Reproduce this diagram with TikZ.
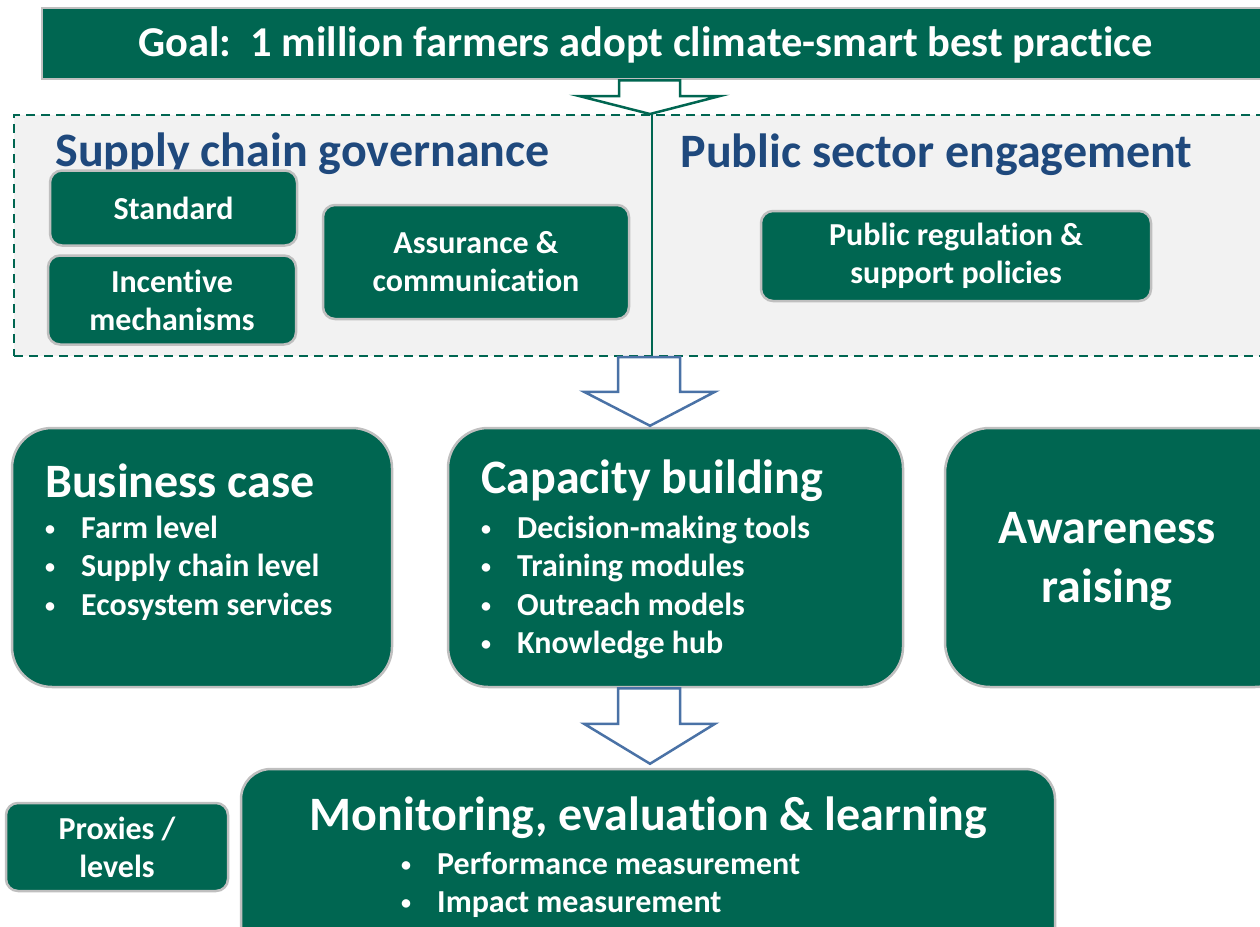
\documentclass[tikz,border=0pt]{standalone}
\usepackage{fontspec}
\setmainfont{Carlito}[Ligatures=NoCommon]
\usetikzlibrary{calc,positioning}

\definecolor{leafgreen}{HTML}{006651}
\definecolor{titleblue}{HTML}{1F497D}
\definecolor{arrowblue}{HTML}{4A72A6}
\definecolor{rimgray}{HTML}{BFBFBF}
\definecolor{panelgray}{HTML}{F2F2F2}

\newcommand{\itm}{\makebox[36pt][l]{\raisebox{3pt}{\fontsize{20}{20}\selectfont\textbullet}}}

\begin{document}
\begin{tikzpicture}[x=1pt,y=-1pt]
       \tikzset{box/.style ={rectangle, fill=leafgreen, draw=rimgray, line width=2.5pt,
                text=white, align=center, inner sep=0pt}}

       \tikzset{smallbox/.style={box, rounded corners=12pt,
                font=\fontsize{32}{38}\selectfont\bfseries}}

       \tikzset{bigbox/.style={box, rounded corners=40pt}}

       \tikzset{head/.style={font=\fontsize{48}{59}\selectfont\bfseries, text=white, inner sep=0pt}}
       \tikzset{items/.style={font=\fontsize{32}{38.6}\selectfont\bfseries, text=white,
                align=left, inner sep=0pt}}
       \tikzset{section/.style={font=\fontsize{48}{58}\selectfont\bfseries, text=titleblue, inner sep=0pt}}
       \tikzset{hollow/.style={fill=white, line width=2.5pt, line join=miter}}

        \useasboundingbox (0,0) rectangle (1260,926);
        \clip (0,0) rectangle (1260,926);
        \coordinate (axis) at (650,0);

        % goal bar
        \node[box, minimum width=1250, minimum height=71] (goal) at (667,43.5) {};
        \node[font=\fontsize{42.5}{50}\selectfont\bfseries, text=white] (goaltext) at (645.5,45) {Goal:~~1 million farmers adopt climate-smart best practice};

        % governance panel
        \node[rectangle, fill=panelgray, draw=leafgreen, line width=2pt, dash pattern=on 9pt off 6pt,
              minimum width=1270, minimum height=241] (panel) at (649,235.5) {};
        \draw[leafgreen, line width=2pt] (panel.north -| 652,0) -- (panel.south -| 652,0);

        \node[section] (supply) at (302.5,154) {Supply chain governance};
        \node[section] (public) at (936.5,155) {Public sector engagement};

        \node[smallbox, minimum width=247, minimum height=75] (standard) at (173.5,208) {Standard};
        \node[smallbox, minimum width=248, minimum height=89] (incentive) at (172,300) {Incentive\\mechanisms};
        \node[smallbox, minimum width=306, minimum height=114] (assurance) at (476,262) {Assurance \&\\communication};
        \node[smallbox, minimum width=390, minimum height=90] (regulation) at (956,256) {Public regulation \&\\support policies};

        % three pillars
        \node[bigbox, minimum width=380, minimum height=259] (business) at (202,557.5) {};
        \node[bigbox, minimum width=455, minimum height=259] (capacity) at (675.5,557.5) {};
        \node[bigbox, rounded corners=45pt, minimum width=355, minimum height=259] (awareness) at (1122.5,557.5) {};

        \node[head, anchor=west] (businesshead) at (45,481) {Business case};
        \node[items, anchor=west] (businesslist) at (45,568) {\itm Farm level\\\itm Supply chain level\\\itm Ecosystem services};

        \node[head, anchor=west] (capacityhead) at (481,481) {Capacity building};
        \node[items, anchor=west] (capacitylist) at (481,587.5) {\itm Decision-making tools\\\itm Training modules\\\itm Outreach models\\\itm Knowledge hub};

        \node[head, align=center] (awarenesstext) at (1107,561) {Awareness\\raising};

        % MEL
        \node[bigbox, rounded corners=30pt, minimum width=814, minimum height=191] (mel) at (648,864.5) {};
        \node[head] (melhead) at (648.5,818) {Monitoring, evaluation \& learning};
        \node[items, anchor=west] (mellist) at (401,885) {\itm Performance measurement\\\itm Impact measurement};
        \node[smallbox, minimum width=222, minimum height=88] (proxies) at (117,847) {Proxies /\\levels};

        % block arrows
        \draw[hollow, draw=leafgreen] ($(goal.south -| axis)+(-31,0)$) -- ($(panel.north -| axis)+(-31,-18)$)
              -- ($(panel.north -| axis)+(-71,-18)$) -- (panel.north -| axis)
              -- ($(panel.north -| axis)+(70,-18)$) -- ($(panel.north -| axis)+(30,-18)$)
              -- ($(goal.south -| axis)+(30,0)$) -- cycle;
        \draw[hollow, draw=arrowblue] ($(panel.south -| axis)+(-32,0)$) -- ($(capacity.north -| axis)+(-32,-35)$)
              -- ($(capacity.north -| axis)+(-66,-35)$) -- ($(capacity.north -| axis)+(0,-1)$)
              -- ($(capacity.north -| axis)+(65,-35)$) -- ($(capacity.north -| axis)+(30,-35)$)
              -- ($(panel.south -| axis)+(30,0)$) -- cycle;
        \draw[hollow, draw=arrowblue] ($(capacity.south -| axis)+(-32,0)$) -- ($(mel.north -| axis)+(-32,-44)$)
              -- ($(mel.north -| axis)+(-66,-44)$) -- ($(mel.north -| axis)+(0,-4)$)
              -- ($(mel.north -| axis)+(65,-44)$) -- ($(mel.north -| axis)+(30,-44)$)
              -- ($(capacity.south -| axis)+(30,0)$) -- cycle;

\end{tikzpicture}
\end{document}
